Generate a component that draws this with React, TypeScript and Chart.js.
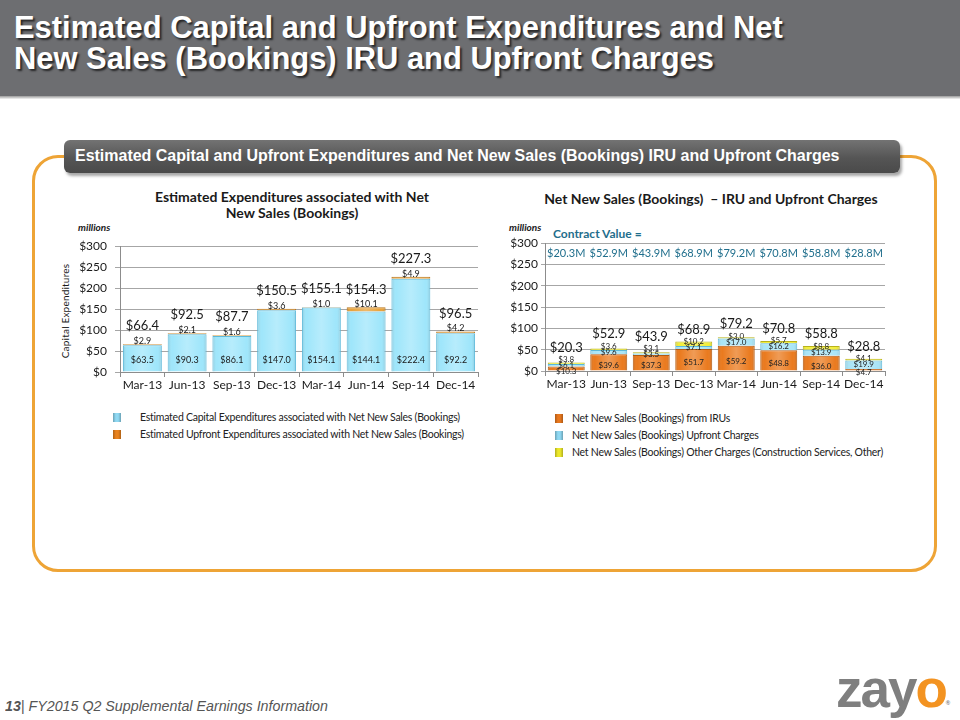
import React, { useEffect, useRef } from "react";
import { Chart, registerables } from "chart.js";

Chart.register(...registerables);

// ---------- data ----------
const quarters = ["Mar-13", "Jun-13", "Sep-13", "Dec-13", "Mar-14", "Jun-14", "Sep-14", "Dec-14"];

// Left chart: Estimated Expenditures associated with Net New Sales
const capexValues = [63.5, 90.3, 86.1, 147.0, 154.1, 144.1, 222.4, 92.2];
const upfrontExpValues = [2.9, 2.1, 1.6, 3.6, 1.0, 10.1, 4.9, 4.2];
const leftTotals = [66.4, 92.5, 87.7, 150.5, 155.1, 154.3, 227.3, 96.5];

// Right chart: Net New Sales (Bookings) – IRU and Upfront Charges
const iruValues = [10.3, 39.6, 37.3, 51.7, 59.2, 48.8, 36.0, 4.7];
const upfrontChargeValues = [6.1, 9.6, 3.5, 7.1, 17.0, 16.2, 13.9, 19.9];
const otherChargeValues = [3.8, 3.6, 3.1, 10.2, 3.0, 5.7, 8.8, 4.1];
const rightTotals = [20.3, 52.9, 43.9, 68.9, 79.2, 70.8, 58.8, 28.8];
const contractValues = ["$20.3M", "$52.9M", "$43.9M", "$68.9M", "$79.2M", "$70.8M", "$58.8M", "$28.8M"];

const yTicksMax = 300;
const yTicksStep = 50;

const FONT = "Lato, 'Noto Sans', sans-serif";

// ---------- plugins ----------
const barShine = {
  id: "barShine",
  afterDatasetsDraw(chart: any) {
    const ctx = chart.ctx;
    chart.data.datasets.forEach((_d: any, di: number) => {
      const meta = chart.getDatasetMeta(di);
      meta.data.forEach((el: any) => {
        const w = el.width;
        const left = el.x - w / 2;
        const top = Math.min(el.y, el.base);
        const h = Math.abs(el.base - el.y);
        if (h < 0.5) return;
        const g = ctx.createLinearGradient(left, 0, left + w, 0);
        g.addColorStop(0, "rgba(0,0,0,0.14)");
        g.addColorStop(0.12, "rgba(255,255,255,0.0)");
        g.addColorStop(0.5, "rgba(255,255,255,0.25)");
        g.addColorStop(0.88, "rgba(255,255,255,0.0)");
        g.addColorStop(1, "rgba(0,0,0,0.14)");
        ctx.save();
        ctx.fillStyle = g;
        ctx.fillRect(left + 1, top + 1, w - 2, h - 1);
        ctx.restore();
      });
    });
  },
};

const leftLabels = {
  id: "leftLabels",
  afterDatasetsDraw(chart: any) {
    const ctx = chart.ctx;
    const ys = chart.scales.y;
    const m0 = chart.getDatasetMeta(0);
    const m1 = chart.getDatasetMeta(1);
    ctx.save();
    ctx.textAlign = "center";
    ctx.textBaseline = "middle";
    ctx.fillStyle = "#1a1a1a";
    quarters.forEach((_q, i) => {
      const x = m0.data[i].x;
      ctx.font = `9px ${FONT}`;
      ctx.fillText("$" + capexValues[i].toFixed(1), x, ys.getPixelForValue(0) - 12);
      const top = m1.data[i].y;
      ctx.fillText("$" + upfrontExpValues[i].toFixed(1), x, top - 3);
      ctx.font = `13px ${FONT}`;
      ctx.fillText("$" + leftTotals[i].toFixed(1), x, top - 18);
    });
    ctx.restore();
  },
};

const rightLabels = {
  id: "rightLabels",
  afterDatasetsDraw(chart: any) {
    const ctx = chart.ctx;
    const ys = chart.scales.y;
    const metas = [0, 1, 2].map((d) => chart.getDatasetMeta(d));
    const series = [iruValues, upfrontChargeValues, otherChargeValues];
    ctx.save();
    ctx.textAlign = "center";
    ctx.textBaseline = "middle";
    quarters.forEach((_q, i) => {
      const x = metas[0].data[i].x;
      let prev = Infinity;
      series.forEach((s, si) => {
        const el = metas[si].data[i];
        let cy = (el.y + el.base) / 2 + (si === 0 ? 3 : 0);
        if (cy > prev - 6) cy = prev - 6;
        prev = cy;
        ctx.font = `8px ${FONT}`;
        ctx.fillStyle = "#222";
        ctx.fillText("$" + s[i].toFixed(1), x, cy);
      });
      const top = metas[2].data[i].y;
      ctx.font = `13px ${FONT}`;
      ctx.fillStyle = "#1a1a1a";
      ctx.fillText("$" + rightTotals[i].toFixed(1), x, Math.min(top, prev) - 12);
      ctx.font = `11px ${FONT}`;
      ctx.fillStyle = "#1f6e8c";
      ctx.fillText(contractValues[i], x, ys.getPixelForValue(277));
    });
    ctx.restore();
  },
};

function makeOptions(yWidth: number, xHeight: number, padTop: number, padRight: number, tickLen: number, tickPad: number) {
  return {
    animation: false as const,
    responsive: false,
    maintainAspectRatio: false,
    layout: { padding: { top: padTop, right: padRight, left: 0, bottom: 0 } },
    plugins: { legend: { display: false }, tooltip: { enabled: false }, title: { display: false } },
    scales: {
      x: {
        stacked: true,
        grid: { display: true, offset: true, drawOnChartArea: false, drawTicks: true, tickLength: 5, color: "#8c8c8c" },
        border: { display: true, color: "#8c8c8c" },
        ticks: { color: "#1a1a1a", font: { family: FONT, size: 12 }, padding: 1, maxRotation: 0 },
        afterFit: (s: any) => { s.height = xHeight; },
      },
      y: {
        stacked: true,
        min: 0,
        max: yTicksMax,
        grid: { color: "#a6a6a6", tickLength: tickLen, drawTicks: true },
        border: { display: true, color: "#8c8c8c" },
        ticks: {
          stepSize: yTicksStep,
          color: "#1a1a1a",
          padding: tickPad,
          font: { family: FONT, size: 12 },
          callback: (v: any) => "$" + v,
        },
        afterFit: (s: any) => { s.width = yWidth; },
      },
    },
  };
}

function LeftChart() {
  const ref = useRef<HTMLCanvasElement>(null);
  useEffect(() => {
    const chart = new Chart(ref.current!, {
      type: "bar",
      data: {
        labels: quarters,
        datasets: [
          {
            label: "Estimated Capital Expenditures associated with Net New Sales (Bookings)",
            data: capexValues,
            backgroundColor: "#9fe6fb",
            borderColor: "#5cb9da",
            borderWidth: 1,
            categoryPercentage: 1,
            barPercentage: 0.87,
          },
          {
            label: "Estimated Upfront Expenditures associated with Net New Sales (Bookings)",
            data: upfrontExpValues,
            backgroundColor: "#e8a23a",
            borderColor: "#b9751c",
            borderWidth: 1,
            categoryPercentage: 1,
            barPercentage: 0.87,
          },
        ],
      },
      options: makeOptions(80, 24, 10, 4, 5, 8) as any,
      plugins: [barShine, leftLabels],
    });
    return () => chart.destroy();
  }, []);
  return <canvas ref={ref} width={442} height={165} style={{ position: "absolute", left: 40, top: 231, width: 442, height: 165 }} />;
}

function RightChart() {
  const ref = useRef<HTMLCanvasElement>(null);
  useEffect(() => {
    const chart = new Chart(ref.current!, {
      type: "bar",
      data: {
        labels: quarters,
        datasets: [
          {
            label: "Net New Sales (Bookings) from IRUs",
            data: iruValues,
            backgroundColor: "#ea7a1e",
            borderColor: "#b45a10",
            borderWidth: 1,
            categoryPercentage: 1,
            barPercentage: 0.87,
          },
          {
            label: "Net New Sales (Bookings) Upfront Charges",
            data: upfrontChargeValues,
            backgroundColor: "#a9e5f7",
            borderColor: "#5cb9da",
            borderWidth: 1,
            categoryPercentage: 1,
            barPercentage: 0.87,
          },
          {
            label: "Net New Sales (Bookings) Other Charges (Construction Services, Other)",
            data: otherChargeValues,
            backgroundColor: "#f2ee3a",
            borderColor: "#b9b21c",
            borderWidth: 1,
            categoryPercentage: 1,
            barPercentage: 0.87,
          },
        ],
      },
      options: makeOptions(55, 25, 10, 5, 4, 3) as any,
      plugins: [barShine, rightLabels],
    });
    return () => chart.destroy();
  }, []);
  return <canvas ref={ref} width={400} height={163} style={{ position: "absolute", left: 490, top: 233, width: 400, height: 163 }} />;
}

function LegendIcon({ color }: { color: string }) {
  return (
    <span
      style={{
        position: "absolute",
        left: 0,
        top: 3,
        width: 8,
        height: 9,
        background: `linear-gradient(90deg, rgba(0,0,0,0.25), ${color} 35%, ${color} 65%, rgba(0,0,0,0.25))`,
        backgroundColor: color,
      }}
    />
  );
}

function LegendRow({ x, y, color, text, tx }: { x: number; y: number; color: string; text: string; tx: number }) {
  return (
    <div style={{ position: "absolute", left: x, top: y, height: 15, width: 400 }}>
      <LegendIcon color={color} />
      <span
        style={{
          position: "absolute",
          left: tx,
          top: 0,
          fontFamily: FONT,
          fontSize: 10.5,
          letterSpacing: -0.25,
          color: "#222",
          whiteSpace: "nowrap",
          lineHeight: "15px",
        }}
      >
        {text}
      </span>
    </div>
  );
}

const titleLine: React.CSSProperties = {
  position: "absolute",
  left: 14,
  height: 30,
  color: "#fff",
  fontFamily: "'Liberation Sans', Arial, sans-serif",
  fontWeight: 700,
  fontSize: 32,
  lineHeight: "30px",
  whiteSpace: "nowrap",
  textShadow: "2px 2px 2px rgba(0,0,0,0.65)",
  transform: "scaleX(0.965)",
  transformOrigin: "left top",
};

export default function App() {
  return (
    <div style={{ position: "absolute", left: 0, top: 0, width: 960, height: 720, background: "#fff", overflow: "hidden", fontFamily: FONT }}>
      {/* header band */}
      <div style={{ position: "absolute", left: 0, top: 0, width: 960, height: 96, background: "#6d6e71" }} />
      <div style={{ position: "absolute", left: 0, top: 96, width: 960, height: 3, background: "linear-gradient(#9a9a9a, #f4f4f4)" }} />
      <div style={{ ...titleLine, top: 12 }}>Estimated Capital and Upfront Expenditures and Net</div>
      <div style={{ ...titleLine, top: 43 }}>New Sales (Bookings) IRU and Upfront Charges</div>

      {/* orange framed panel */}
      <div
        style={{
          position: "absolute",
          left: 32,
          top: 155,
          width: 899,
          height: 411,
          border: "3px solid #eea436",
          borderRadius: 26,
        }}
      />
      {/* section bar */}
      <div
        style={{
          position: "absolute",
          left: 64,
          top: 140,
          width: 836,
          height: 33,
          borderRadius: 6,
          background: "linear-gradient(#737373, #555 55%, #4a4a4a)",
          boxShadow: "2px 3px 3px rgba(0,0,0,0.35)",
        }}
      >
        <span
          style={{
            position: "absolute",
            left: 11,
            top: 6,
            color: "#fff",
            fontFamily: "'Liberation Sans', Arial, sans-serif",
            fontWeight: 700,
            fontSize: 17,
            whiteSpace: "nowrap",
            transform: "scaleX(0.94)",
            transformOrigin: "left top",
          }}
        >
          Estimated Capital and Upfront Expenditures and Net New Sales (Bookings) IRU and Upfront Charges
        </span>
      </div>

      {/* left chart titles */}
      <div style={{ position: "absolute", left: 117, top: 189, width: 350, textAlign: "center", fontWeight: 700, fontSize: 14, lineHeight: "16px", color: "#1a1a1a" }}>
        Estimated Expenditures associated with Net
        <br />
        New Sales (Bookings)
      </div>
      <div style={{ position: "absolute", left: 78, top: 221, fontWeight: 700, fontStyle: "italic", fontSize: 10, color: "#1a1a1a" }}>millions</div>
      <div
        style={{
          position: "absolute",
          left: 65,
          top: 311,
          fontSize: 10,
          color: "#1a1a1a",
          whiteSpace: "nowrap",
          letterSpacing: 0.2,
          transform: "translate(-50%, -50%) rotate(-90deg)",
        }}
      >
        Capital Expenditures
      </div>
      <LeftChart />

      {/* right chart titles */}
      <div style={{ position: "absolute", left: 511, top: 191, width: 400, textAlign: "center", fontWeight: 700, fontSize: 14, lineHeight: "16px", color: "#1a1a1a" }}>
        Net New Sales (Bookings) &nbsp;– IRU and Upfront Charges
      </div>
      <div style={{ position: "absolute", left: 509, top: 221, fontWeight: 700, fontStyle: "italic", fontSize: 10, color: "#1a1a1a" }}>millions</div>
      <div style={{ position: "absolute", left: 553, top: 226, fontWeight: 700, fontSize: 12, color: "#1f6e8c" }}>Contract Value =</div>
      <RightChart />

      {/* legends */}
      <LegendRow x={113} y={410} color="#8fd8f2" tx={27} text="Estimated Capital Expenditures associated with Net New Sales (Bookings)" />
      <LegendRow x={113} y={427} color="#e8821e" tx={27} text="Estimated Upfront Expenditures associated with Net New Sales (Bookings)" />
      <LegendRow x={555} y={411} color="#e8781e" tx={17} text="Net New Sales (Bookings) from IRUs" />
      <LegendRow x={555} y={428} color="#8fd8f2" tx={17} text="Net New Sales (Bookings) Upfront Charges" />
      <LegendRow x={555} y={445} color="#ece82a" tx={17} text="Net New Sales (Bookings) Other Charges (Construction Services, Other)" />

      {/* footer */}
      <div
        style={{
          position: "absolute",
          left: 5,
          top: 697,
          fontFamily: "'Liberation Sans', Arial, sans-serif",
          fontStyle: "italic",
          fontSize: 15,
          color: "#555",
          whiteSpace: "nowrap",
          transform: "scaleX(0.95)",
          transformOrigin: "left top",
        }}
      >
        <b>13</b>| FY2015 Q2 Supplemental Earnings Information
      </div>
      <div
        style={{
          position: "absolute",
          left: 836,
          top: 660,
          fontFamily: "'Liberation Sans', Arial, sans-serif",
          fontWeight: 700,
          fontSize: 53,
          lineHeight: "58px",
          letterSpacing: -2,
          color: "#7f7f7f",
          whiteSpace: "nowrap",
        }}
      >
        zay<span style={{ color: "#f39321" }}>o</span>
        <span style={{ fontSize: 6, verticalAlign: "top", color: "#7f7f7f", letterSpacing: 0, position: "relative", top: 14 }}>®</span>
      </div>
    </div>
  );
}
